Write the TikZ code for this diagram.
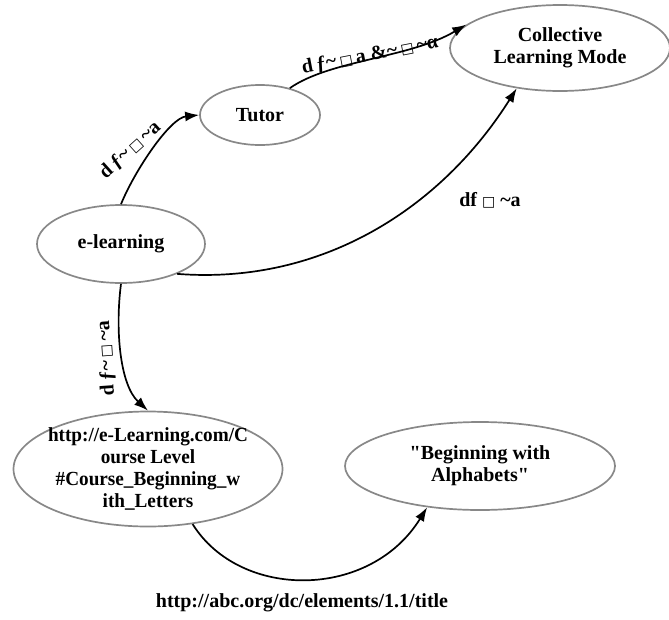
\documentclass[tikz,border=0pt]{standalone}
\usepackage{fontspec}
\setmainfont{Liberation Serif}
\newfontfamily\narrowfont[FakeStretch=0.96]{Liberation Serif}
\newfontfamily\boxfont{DejaVu Sans}
\usetikzlibrary{shapes.geometric,arrows.meta}
\definecolor{rim}{HTML}{888888}
\newcommand{\bx}{{\boxfont\mdseries\fontsize{14}{14}\selectfont □}}
\newcommand{\tl}{\textasciitilde}

\begin{document}
\begin{tikzpicture}[x=1pt,y=-1pt]

  % Styles for the concept ellipses, the connecting arrows and their labels
  \tikzstyle{concept}=[ellipse, draw=rim, line width=1.7pt, inner sep=0pt, align=center, font=\fontsize{20}{22}\selectfont\bfseries]
  \tikzstyle{edge}=[line width=1.7pt, -{Latex[length=14pt,width=10pt]}]
  \tikzstyle{lbl}=[font=\fontsize{20}{22}\selectfont\bfseries, inner sep=1pt]

  \useasboundingbox (0,0) rectangle (669,619);

  % Concepts
  \node[concept, minimum width=120, minimum height=60] (tutor) at (260,115) {Tutor};
  \node[concept, minimum width=220, minimum height=86] (collective) at (560,48) {Collective\\Learning Mode};
  \node[concept, minimum width=168, minimum height=78] (elearn) at (121,244) {e-learning};
  \node[concept, minimum width=269, minimum height=115, inner xsep=-9pt, inner ysep=-4pt,
        font=\narrowfont\fontsize{20}{22}\selectfont\bfseries] (course) at (148,469)
    {http://e-Learning.com/C\\ourse Level\\\#Course\_Beginning\_w\\ith\_Letters};
  \node[concept, minimum width=270, minimum height=88] (title) at (480,466) {\textquotedbl Beginning with\\Alphabets\textquotedbl};

  % Relations
  \draw[edge] (elearn.north) .. controls (135,170) and (170,118) .. (tutor.west);
  \draw[edge] (tutor.42) .. controls (330,60) and (410,58) .. (collective.166);
  \draw[edge] (elearn.-28) .. controls (320,285) and (440,210) .. (collective.223);
  \draw[edge] (elearn.south) .. controls (115,330) and (120,385) .. (course.north);
  \draw[edge] (course.-51) .. controls (240,600) and (370,600) .. (title.218);

  % Relation labels
  \node[lbl, rotate=42] (r1) at (130,150) {d\,ƒ\tl\,\bx\,\tl a};
  \node[lbl, rotate=11] (r2) at (370,55) {d\,ƒ\tl\,\bx\,a \&\tl\,\bx\,\tl α};
  \node[lbl] (r3) at (490,200) {df \bx\ \tl a};
  \node[lbl, rotate=94] (r4) at (106,358) {d\,ƒ\tl\,\bx\,\tl a};
  \node[lbl] (r5) at (302,603) {http://abc.org/dc/elements/1.1/title};

\end{tikzpicture}
\end{document}
